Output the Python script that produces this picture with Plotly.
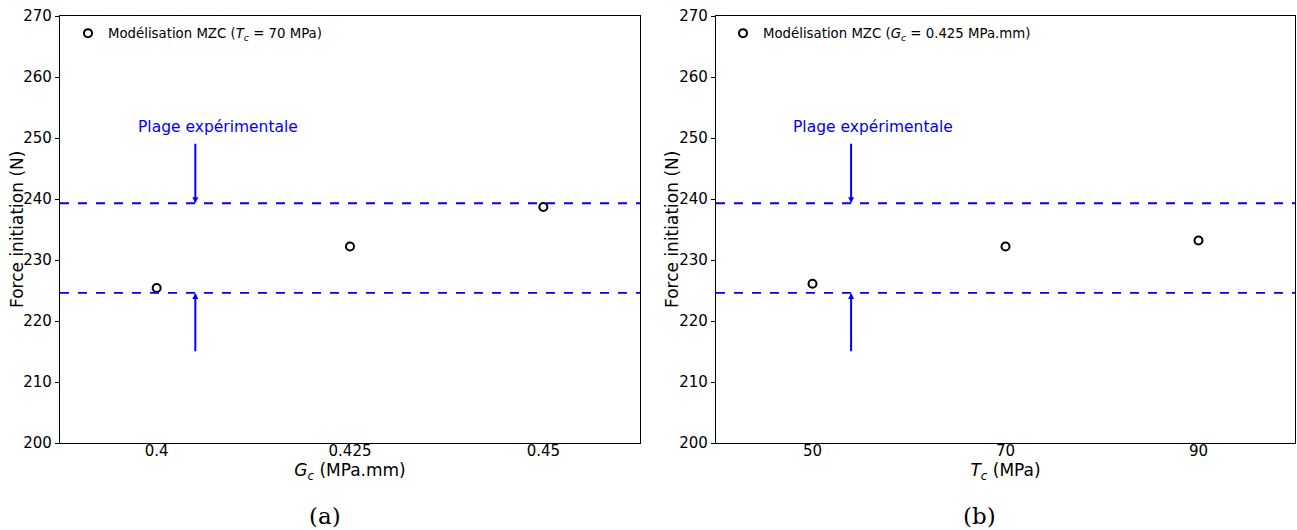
import plotly.graph_objects as go

# Data
gc_values = [0.4, 0.425, 0.45]
force_gc = [225.4, 232.2, 238.7]
tc_values = [50, 70, 90]
force_tc = [226.1, 232.2, 233.2]
exp_low = 224.6
exp_high = 239.3
y_ticks = [200, 210, 220, 230, 240, 250, 260, 270]

W, H = 1297, 530
fig = go.Figure()

fig.add_trace(go.Scatter(
    x=gc_values, y=force_gc, mode="markers", xaxis="x", yaxis="y",
    marker=dict(symbol="circle-open", size=8, color="black", line=dict(width=2, color="black")),
    name="Modélisation MZC (<i>T</i><sub><i>c</i></sub> = 70 MPa)", legend="legend"))
fig.add_trace(go.Scatter(
    x=tc_values, y=force_tc, mode="markers", xaxis="x2", yaxis="y2",
    marker=dict(symbol="circle-open", size=8, color="black", line=dict(width=2, color="black")),
    name="Modélisation MZC (<i>G</i><sub><i>c</i></sub> = 0.425 MPa.mm)", legend="legend2"))

ydom = [1 - 443 / H, 1 - 16 / H]
tickfont = dict(family="DejaVu Sans", size=15, color="black")
titlefont = dict(family="DejaVu Sans", size=17, color="black")

common_x = dict(showline=True, mirror=True, linecolor="black", linewidth=1.2,
                showgrid=False, zeroline=False, ticks="", tickfont=tickfont, automargin=False,
                ticklabelstandoff=-6)
common_y = dict(showline=True, mirror=True, linecolor="black", linewidth=1.2,
                showgrid=False, zeroline=False, ticks="outside", ticklen=4, tickwidth=1,
                tickcolor="black", tickfont=tickfont, range=[200, 270], tickvals=y_ticks,
                automargin=False)

fig.update_layout(
    width=W, height=H, margin=dict(l=0, r=0, t=0, b=0),
    plot_bgcolor="white", paper_bgcolor="white", showlegend=True,
    xaxis=dict(domain=[60 / W, 640 / W], range=[0.3875, 0.4625], tickvals=gc_values,
               ticktext=["0.4", "0.425", "0.45"], anchor="y",
               title=dict(text="<i>G</i><sub><i>c</i></sub> (MPa.mm)", font=titlefont, standoff=0),
               **common_x),
    yaxis=dict(domain=ydom, anchor="x", **common_y),
    xaxis2=dict(domain=[716 / W, 1295 / W], range=[40, 100], tickvals=tc_values,
                ticktext=["50", "70", "90"], anchor="y2",
                title=dict(text="<i>T</i><sub><i>c</i></sub> (MPa)", font=titlefont, standoff=0),
                **common_x),
    yaxis2=dict(domain=ydom, anchor="x2", **common_y),
    legend=dict(x=68 / W, y=1 - 18 / H, xanchor="left", yanchor="top",
                bgcolor="rgba(0,0,0,0)", font=dict(family="DejaVu Sans", size=13.3, color="black")),
    legend2=dict(x=723 / W, y=1 - 18 / H, xanchor="left", yanchor="top",
                 bgcolor="rgba(0,0,0,0)", font=dict(family="DejaVu Sans", size=13.3, color="black")),
)

# Y axis titles
for xp in [17, 672]:
    fig.add_annotation(x=xp / W, y=1 - 230 / H, xref="paper", yref="paper", showarrow=False,
                       xanchor="center", yanchor="middle", textangle=-90,
                       text="Force initiation (N)", font=titlefont)

# Experimental range lines
for xr in ["x", "x2"]:
    yr = "y" if xr == "x" else "y2"
    for yv in [exp_low, exp_high]:
        fig.add_shape(type="line", xref=f"{xr} domain", yref=yr, x0=0, x1=1, y0=yv, y1=yv,
                      line=dict(color="blue", width=1.8, dash="dash"))

# Arrows and labels
arrow_specs = [("x", "y", 0.405, 0.4079), ("x2", "y2", 54.0, 56.3)]
for xr, yr, xa, xt in arrow_specs:
    fig.add_annotation(x=xa, y=exp_high, ax=xa, ay=249.3, xref=xr, yref=yr, axref=xr, ayref=yr,
                       showarrow=True, arrowhead=2, arrowsize=0.6, arrowwidth=2, arrowcolor="blue", text="")
    fig.add_annotation(x=xa, y=exp_low, ax=xa, ay=214.8, xref=xr, yref=yr, axref=xr, ayref=yr,
                       showarrow=True, arrowhead=2, arrowsize=0.6, arrowwidth=2, arrowcolor="blue", text="")
    fig.add_annotation(x=xt, y=251.8, xref=xr, yref=yr, showarrow=False, text="Plage expérimentale",
                       font=dict(family="DejaVu Sans", size=15.5, color="blue"))

# Subfigure labels
for txt, xp in [("(a)", 325), ("(b)", 979)]:
    fig.add_annotation(x=xp / W, y=1 - 516 / H, xref="paper", yref="paper", showarrow=False,
                       xanchor="center", yanchor="middle",
                       text=txt, font=dict(family="DejaVu Serif", size=23, color="black"))

fig.write_html("out.html", config={"displayModeBar": False},
               post_script="document.body.style.margin='0';")
